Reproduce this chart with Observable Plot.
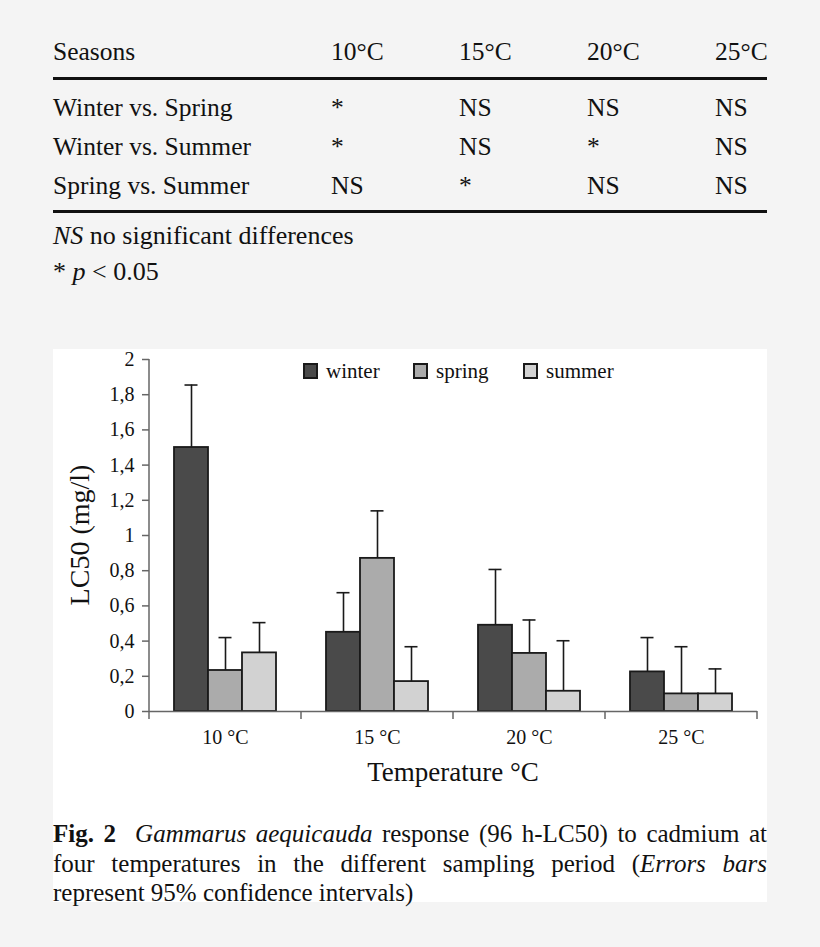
<!DOCTYPE html>
<html>
<head>
<meta charset="utf-8">
<script src="https://cdn.jsdelivr.net/npm/d3@7"></script>
<script src="https://cdn.jsdelivr.net/npm/@observablehq/plot@0.6"></script>
<style>
  html, body { margin: 0; padding: 0; }
  body { background: #f4f4f4; font-family: "Liberation Serif", "Times New Roman", serif; color: #111; }
  #page { position: relative; width: 820px; height: 947px; overflow: hidden; }
  .abs { position: absolute; white-space: nowrap; }
  .cell { position: absolute; top: 0; }
  .rule { position: absolute; left: 53px; width: 714px; background: #111; }
  #panel { position: absolute; left: 53px; top: 349px; width: 714px; height: 553px; background: #fff; }
  #chart { position: absolute; left: 0; top: 0; }
  #legend { position: absolute; top: 10px; left: 250px; display: flex; font-size: 21px; line-height: 24px; }
  .litem { display: flex; align-items: center; width: 110px; }
  .lsw { width: 15px; height: 16px; border: 2px solid #1a1a1a; margin-right: 8px; box-sizing: border-box; }
  .capline { position: absolute; left: 53px; width: 714px; font-size: 25px; line-height: 29.5px; text-align: justify; text-align-last: justify; white-space: nowrap; }
</style>
</head>
<body>
<div id="page">
  <div id="table"></div>
  <div id="panel">
    <div id="chart"></div>
    <div id="legend"></div>
    <div class="abs" id="xtitle" style="font-size:27px; left:95px; width:610px; text-align:center; top:408px; line-height:30px;">Temperature °C</div>
    <div class="abs" id="ytitle" style="font-size:28px; left:27px; top:186px; line-height:30px; transform: translate(-50%,-50%) rotate(-90deg);">LC50 (mg/l)</div>
  </div>
  <div class="capline" style="top:819px;"><b>Fig. 2</b>&nbsp; <i>Gammarus aequicauda</i> response (96 h-LC50) to cadmium at</div>
  <div class="capline" style="top:848.5px;">four temperatures in the different sampling period (<i>Errors bars</i></div>
  <div class="capline" style="top:878px; text-align-last: left;">represent 95% confidence intervals)</div>
</div>
<script>
// ---- Table data ----
const tableHeader = ["Seasons", "10°C", "15°C", "20°C", "25°C"];
const tableRows = ["Winter vs. Spring", "Winter vs. Summer", "Spring vs. Summer"];
const tableValues = [
  ["*", "NS", "NS", "NS"],
  ["*", "NS", "*", "NS"],
  ["NS", "*", "NS", "NS"]
];

// ---- Chart data ----
const temperatures = ["10", "15", "20", "25"];
const temperatureLabels = ["10 °C", "15 °C", "20 °C", "25 °C"];
const seasons = ["winter", "spring", "summer"];
const seasonColors = ["#4a4a4a", "#ababab", "#d2d2d2"];
const winterLC50 = [1.50, 0.45, 0.49, 0.225];
const winterUpper = [1.855, 0.675, 0.807, 0.42];
const springLC50 = [0.233, 0.87, 0.33, 0.10];
const springUpper = [0.42, 1.14, 0.52, 0.368];
const summerLC50 = [0.333, 0.17, 0.115, 0.10];
const summerUpper = [0.505, 0.368, 0.402, 0.242];
const yTicks = [0, 0.2, 0.4, 0.6, 0.8, 1, 1.2, 1.4, 1.6, 1.8, 2];

// ---- Build table ----
const colLeft = [53, 331, 459, 587, 715];
const tableEl = document.getElementById("table");
function addRow(top, height, cells) {
  const row = document.createElement("div");
  row.className = "abs";
  row.style.cssText = `left:0;top:${top}px;height:${height}px;line-height:${height}px;font-size:25.5px;width:820px;`;
  cells.forEach((c, i) => {
    const s = document.createElement("span");
    s.className = "cell";
    s.style.left = colLeft[i] + "px";
    s.textContent = c;
    row.appendChild(s);
  });
  tableEl.appendChild(row);
}
addRow(37, 30, tableHeader);
const r1 = document.createElement("div"); r1.className = "rule"; r1.style.cssText += "top:77px;height:3px;"; tableEl.appendChild(r1);
tableRows.forEach((name, i) => addRow(88 + i * 39, 39, [name, ...tableValues[i]]));
const r2 = document.createElement("div"); r2.className = "rule"; r2.style.cssText += "top:210px;height:2.5px;"; tableEl.appendChild(r2);
const n1 = document.createElement("div"); n1.className = "abs";
n1.style.cssText = "left:53px;top:221px;font-size:26px;line-height:30px;";
n1.innerHTML = "<i>NS</i> no significant differences"; tableEl.appendChild(n1);
const n2 = document.createElement("div"); n2.className = "abs";
n2.style.cssText = "left:53px;top:257px;font-size:26px;line-height:30px;";
n2.innerHTML = "* <i>p</i> &lt; 0.05"; tableEl.appendChild(n2);

// ---- Legend ----
const legendEl = document.getElementById("legend");
seasons.forEach((s, j) => {
  const item = document.createElement("div"); item.className = "litem";
  const sw = document.createElement("div"); sw.className = "lsw"; sw.style.background = seasonColors[j];
  const tx = document.createElement("span"); tx.textContent = s;
  item.appendChild(sw); item.appendChild(tx); legendEl.appendChild(item);
});

// ---- Chart ----
const values = [winterLC50, springLC50, summerLC50];
const uppers = [winterUpper, springUpper, summerUpper];
const data = [];
temperatures.forEach((t, i) => {
  seasons.forEach((s, j) => {
    data.push({temp: t, season: s, value: values[j][i], upper: uppers[j][i]});
  });
});

const plot = Plot.plot({
  width: 714,
  height: 450,
  marginLeft: 95,
  marginRight: 9,
  marginTop: 10,
  marginBottom: 88,
  style: {fontFamily: "Liberation Serif, Times New Roman, serif", fontSize: "20px", color: "#111", background: "transparent"},
  facet: {data, x: "temp"},
  fx: {domain: temperatures, padding: 0, label: null},
  x: {domain: seasons, axis: null, paddingInner: 0, paddingOuter: 0.72},
  y: {domain: [0, 2], label: null},
  color: {domain: seasons, range: seasonColors},
  marks: [
    Plot.axisY({ticks: yTicks, tickFormat: d => String(d).replace(".", ","), tickSize: 7, tickPadding: 8, stroke: "#666", fill: "#111", strokeWidth: 1.5, fontSize: 20, label: null}),
    Plot.axisFx({anchor: "bottom", tickSize: 0, tickPadding: 18, fontSize: 20, fill: "#111", label: null,
      tickFormat: d => temperatureLabels[temperatures.indexOf(d)]}),
    Plot.barY(data, {x: "season", y: "value", fill: "season", stroke: "#1a1a1a", strokeWidth: 1.8}),
    Plot.ruleX(data, {x: "season", y1: "value", y2: "upper", stroke: "#1a1a1a", strokeWidth: 1.6}),
    Plot.tickY(data, {x: "season", y: "upper", stroke: "#1a1a1a", strokeWidth: 1.6, insetLeft: 10.5, insetRight: 10.5}),
    Plot.ruleY([0], {stroke: "#666", strokeWidth: 1.5})
  ]
});
document.getElementById("chart").appendChild(plot);

// Axis line and category boundary ticks, placed with Plot's fx and y scales
const fxScale = plot.scale("fx");
const yScale = plot.scale("y");
const y0 = yScale.apply(0);
const yTop = yScale.apply(yTicks[yTicks.length - 1]);
const bounds = temperatures.map(t => fxScale.apply(t));
bounds.push(fxScale.apply(temperatures[temperatures.length - 1]) + fxScale.bandwidth);
const svg = d3.select(plot.tagName.toLowerCase() === "svg" ? plot : plot.querySelector("svg"));
const g = svg.append("g").attr("stroke", "#666").attr("stroke-width", 1.5);
g.selectAll("line.b").data(bounds).join("line").attr("class", "b")
  .attr("x1", d => d).attr("x2", d => d)
  .attr("y1", y0).attr("y2", y0 + 8);
g.append("line").attr("x1", bounds[0]).attr("x2", bounds[0]).attr("y1", yTop).attr("y2", y0);
</script>
</body>
</html>
